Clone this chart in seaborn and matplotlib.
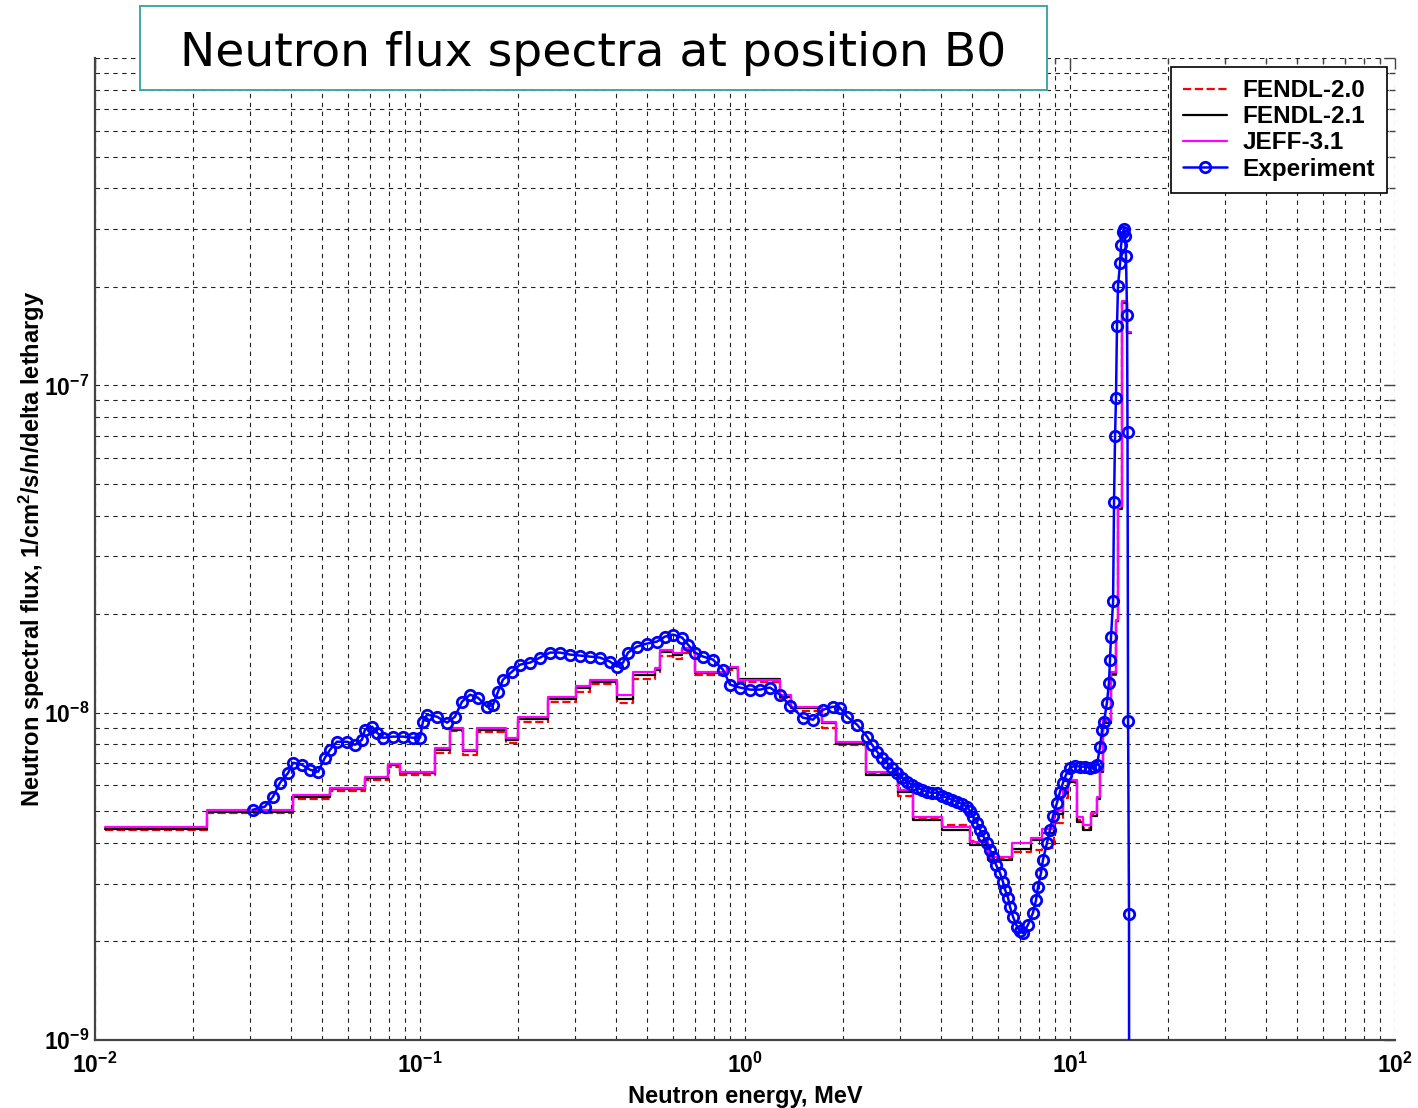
import matplotlib
matplotlib.use("Agg")
import matplotlib.pyplot as plt
import seaborn as sns
import pandas as pd
import numpy as np
from matplotlib.patches import Rectangle
from matplotlib.ticker import FixedLocator, LogLocator, NullFormatter, FixedFormatter

# ---------------- data (flux values in units of 1e-9 1/cm2/s/n/lethargy) ----------------
UNIT = 1e-9

EDGES = [0.0107, 0.0221, 0.0406, 0.0528, 0.0677, 0.0796, 0.0866, 0.111, 0.1236, 0.1354,
         0.150, 0.184, 0.200, 0.247, 0.302, 0.333, 0.405, 0.452, 0.529, 0.549,
         0.600, 0.640, 0.702, 0.880, 0.952, 1.28, 1.39, 1.72, 1.90, 2.35,
         2.96, 3.29, 4.04, 4.92, 5.6, 6.63, 7.6, 8.2, 8.9, 9.5,
         9.86, 10.5, 10.96, 11.6, 12.1, 12.4, 12.6, 13.4, 13.85, 14.05,
         14.45, 15.0, 15.4]

JEFF31 = [4.48, 5.05, 5.61, 5.90, 6.37, 6.98, 6.60, 7.81, 8.99, 7.71,
          8.99, 8.38, 9.67, 11.2, 12.1, 12.6, 11.3, 13.35, 13.7, 15.5,
          15.2, 15.8, 13.3, 13.8, 12.6, 11.3, 10.43, 9.39, 8.15, 6.60,
          5.82, 4.81, 4.48, 4.02, 3.63, 4.00, 4.15, 4.40, 5.00, 5.80,
          6.24, 4.81, 4.54, 4.95, 5.54, 6.69, 9.50, 13.3, 19.2, 42.7,
          181, 146]

FENDL21 = [4.42, 4.98, 5.52, 5.83, 6.30, 6.90, 6.52, 7.70, 8.88, 7.62,
           8.85, 8.25, 9.55, 11.0, 11.9, 12.4, 11.0, 13.0, 13.5, 15.3,
           15.0, 15.6, 13.2, 13.7, 12.7, 11.2, 10.3, 9.30, 8.05, 6.45,
           5.72, 4.70, 4.38, 3.95, 3.55, 3.83, 4.08, 4.30, 4.90, 5.70,
           6.15, 4.65, 4.38, 4.85, 5.45, 6.60, 9.30, 13.1, 19.0, 42.0,
           178, 144]

FENDL20 = [4.38, 4.93, 5.45, 5.78, 6.22, 6.82, 6.45, 7.55, 8.80, 7.45,
           8.70, 8.10, 9.35, 10.8, 11.6, 12.2, 10.7, 12.7, 13.3, 14.9,
           14.6, 15.2, 13.0, 13.5, 12.4, 11.1, 10.1, 9.00, 7.95, 6.50,
           5.55, 4.78, 4.55, 4.05, 3.60, 3.75, 3.80, 3.85, 4.60, 5.50,
           6.10, 4.70, 4.45, 4.90, 5.50, 6.60, 9.40, 13.0, 18.8, 42.5,
           180, 145]

EXP_E = [0.0306, 0.0333, 0.0353, 0.0371, 0.0393, 0.0407, 0.0433, 0.0459, 0.0486, 0.0510,
         0.0529, 0.0555, 0.0596, 0.0631, 0.0663, 0.0677, 0.0712, 0.0737, 0.0770, 0.0826,
         0.0887, 0.0952, 0.100, 0.1021, 0.1051, 0.1128, 0.1211, 0.1281, 0.1346, 0.1425,
         0.1508, 0.1608, 0.1678, 0.1738, 0.1800, 0.1919, 0.2031, 0.2181, 0.2340, 0.2512,
         0.2697, 0.2894, 0.3107, 0.3335, 0.3580, 0.3843, 0.4039, 0.4213, 0.4365, 0.4652,
         0.4994, 0.5361, 0.5674, 0.6006, 0.6401, 0.6678, 0.7017, 0.7428, 0.7973, 0.8558,
         0.8992, 0.9652, 1.036, 1.112, 1.194, 1.282, 1.375, 1.508, 1.619, 1.738,
         1.865, 1.960, 2.060, 2.212, 2.374, 2.459, 2.548, 2.640, 2.735, 2.834,
         2.936, 3.042, 3.151, 3.265, 3.382, 3.505, 3.631, 3.762, 3.898, 4.038,
         4.183, 4.335, 4.490, 4.653, 4.821, 4.924, 5.029, 5.174, 5.285, 5.399,
         5.553, 5.673, 5.795, 5.920, 6.089, 6.221, 6.310, 6.446, 6.538, 6.677,
         6.869, 7.017, 7.168, 7.428, 7.695, 7.862, 7.971, 8.142, 8.256, 8.496,
         8.679, 8.866, 9.120, 9.316, 9.517, 9.720, 10.0, 10.36, 10.74, 11.12,
         11.52, 11.85, 12.11, 12.37, 12.55, 12.73, 12.99, 13.18, 13.28, 13.37,
         13.57, 13.66, 13.76, 13.85, 13.95, 14.05, 14.26, 14.36, 14.56, 14.66,
         14.77, 14.87, 14.98, 15.03, 15.09, 15.19, 15.25]

EXP_FLUX = [5.05, 5.16, 5.54, 6.11, 6.55, 7.03, 6.93, 6.69, 6.60, 7.29,
            7.71, 8.15, 8.15, 7.98, 8.27, 8.87, 9.06, 8.69, 8.38, 8.45,
            8.45, 8.38, 8.38, 9.39, 9.86, 9.72, 9.32, 9.72, 10.80, 11.35,
            11.11, 10.43, 10.58, 11.59, 12.62, 13.35, 14.02, 14.22, 14.73, 15.26,
            15.26, 15.05, 14.94, 14.84, 14.73, 14.32, 13.83, 14.22, 15.26, 15.92,
            16.26, 16.49, 17.08, 17.32, 16.96, 16.14, 15.26, 14.84, 14.52, 13.53,
            12.18, 11.93, 11.76, 11.76, 11.93, 11.35, 10.50, 9.65, 9.52, 10.21,
            10.43, 10.36, 9.72, 9.19, 8.45, 7.98, 7.60, 7.29, 7.03, 6.79,
            6.55, 6.33, 6.15, 6.02, 5.90, 5.82, 5.73, 5.69, 5.69, 5.57,
            5.50, 5.42, 5.34, 5.27, 5.16, 5.01, 4.81, 4.61, 4.39, 4.21,
            4.00, 3.81, 3.63, 3.43, 3.24, 3.04, 2.88, 2.72, 2.55, 2.38,
            2.22, 2.15, 2.12, 2.25, 2.45, 2.68, 2.94, 3.24, 3.55, 4.00,
            4.39, 4.84, 5.31, 5.73, 6.11, 6.46, 6.79, 6.88, 6.84, 6.84,
            6.79, 6.84, 6.93, 7.87, 8.87, 9.39, 10.73, 12.35, 14.5, 17.0,
            21.9, 43.9, 69.8, 91.3, 151.5, 201, 236, 268, 294, 300,
            286, 248, 164, 71.8, 9.45, 2.43, 0.001]

X_TICKS = [1e-2, 1e-1, 1e0, 1e1, 1e2]
X_TICK_LABELS = [r"$\mathbf{10^{-2}}$", r"$\mathbf{10^{-1}}$", r"$\mathbf{10^{0}}$",
                 r"$\mathbf{10^{1}}$", r"$\mathbf{10^{2}}$"]
Y_TICKS = [1e-9, 1e-8, 1e-7, 1e-6]
Y_TICK_LABELS = [r"$\mathbf{10^{-9}}$", r"$\mathbf{10^{-8}}$", r"$\mathbf{10^{-7}}$", ""]

TITLE = "Neutron flux spectra at position B0"
XLABEL = "Neutron energy, MeV"
YLABEL = r"Neutron spectral flux, 1/cm$^{\mathbf{2}}$/s/n/delta lethargy"

# ---------------- style ----------------
sns.set_style("white")
plt.rcParams["font.family"] = ["Liberation Sans", "DejaVu Sans"]
plt.rcParams["mathtext.fontset"] = "custom"
plt.rcParams["mathtext.rm"] = "Liberation Sans"
plt.rcParams["mathtext.bf"] = "Liberation Sans:bold"
plt.rcParams["mathtext.it"] = "Liberation Sans:italic"
for k in ["text.color", "axes.labelcolor", "xtick.labelcolor", "ytick.labelcolor"]:
    plt.rcParams[k] = "black"

W, H = 1418, 1108
fig = plt.figure(figsize=(W / 100, H / 100), dpi=100)
fig.patch.set_facecolor("white")
ax = fig.add_axes([95 / W, 1 - 1040 / H, 1300 / W, 982 / H])

def step_frame(edges, vals):
    return pd.DataFrame({"E": edges, "flux": np.array(list(vals) + [vals[-1]]) * UNIT})

d20 = step_frame(EDGES, FENDL20)
d21 = step_frame(EDGES, FENDL21)
dje = step_frame(EDGES, JEFF31)
dex = pd.DataFrame({"E": EXP_E, "flux": np.array(EXP_FLUX) * UNIT})

sns.lineplot(data=d20, x="E", y="flux", ax=ax, color="#ff0000", linestyle="--",
             drawstyle="steps-post", lw=1.6, estimator=None, sort=False,
             label="FENDL-2.0", zorder=3)
sns.lineplot(data=d21, x="E", y="flux", ax=ax, color="black",
             drawstyle="steps-post", lw=1.6, estimator=None, sort=False,
             label="FENDL-2.1", zorder=3)
sns.lineplot(data=dje, x="E", y="flux", ax=ax, color="#ff00ff",
             drawstyle="steps-post", lw=1.6, estimator=None, sort=False,
             label="JEFF-3.1", zorder=4)
sns.lineplot(data=dex, x="E", y="flux", ax=ax, color="#0000ff", lw=1.8,
             marker="o", markersize=7.5, markerfacecolor="none",
             mec="#0000ff", mew=2.0, estimator=None, sort=False,
             label="Experiment", zorder=5)

ax.set_xscale("log")
ax.set_yscale("log")
ax.set_xlim(1e-2, 1e2)
ax.set_ylim(1e-9, 1e-6)

ax.xaxis.set_major_locator(FixedLocator(X_TICKS))
ax.xaxis.set_major_formatter(FixedFormatter(X_TICK_LABELS))
ax.yaxis.set_major_locator(FixedLocator(Y_TICKS))
ax.yaxis.set_major_formatter(FixedFormatter(Y_TICK_LABELS))
ax.xaxis.set_minor_locator(LogLocator(base=10, subs=np.arange(2, 10), numticks=20))
ax.yaxis.set_minor_locator(LogLocator(base=10, subs=np.arange(2, 10), numticks=20))
ax.xaxis.set_minor_formatter(NullFormatter())
ax.yaxis.set_minor_formatter(NullFormatter())

ax.grid(which="both", linestyle=(0, (4, 4)), color="#222222", lw=0.8, zorder=0)
ax.set_axisbelow(True)

ax.tick_params(which="both", direction="in", top=True, right=True, color="#444444", width=1.0)
ax.tick_params(which="major", length=8, labelsize=16.5, pad=4)
ax.tick_params(which="minor", length=4)
ax.tick_params(axis="x", which="major", pad=9)

for s in ["left", "bottom"]:
    ax.spines[s].set_color("#444444")
    ax.spines[s].set_linewidth(1.6)
for s in ["top", "right"]:
    ax.spines[s].set_visible(False)

ax.set_xlabel(XLABEL, fontsize=17, fontweight="bold")
ax.set_ylabel(YLABEL, fontsize=17, fontweight="bold")
ax.xaxis.set_label_coords(0.5, -0.046)
ax.yaxis.set_label_coords(-0.037, 0.5)

leg = ax.legend(loc="upper right", bbox_to_anchor=(1387 / W, 1 - 67 / H),
                bbox_transform=fig.transFigure, borderaxespad=0, frameon=True,
                fancybox=False, framealpha=1, edgecolor="black",
                prop={"weight": "bold", "size": 17.5}, handlelength=1.8,
                handletextpad=0.65, labelspacing=0.13, borderpad=0.5)
leg.get_frame().set_linewidth(1.2)

# title box
fig.patches.append(Rectangle((140 / W, 1 - 90 / H), 907 / W, 84 / H,
                             transform=fig.transFigure, facecolor="white",
                             edgecolor="#3fa7a7", lw=1.4, zorder=10))
fig.text((140 + 1047) / 2 / W, 1 - 53 / H, TITLE, ha="center", va="center",
         fontsize=34, family="DejaVu Sans", color="black", zorder=11)

fig.savefig("out.png", dpi=100)
